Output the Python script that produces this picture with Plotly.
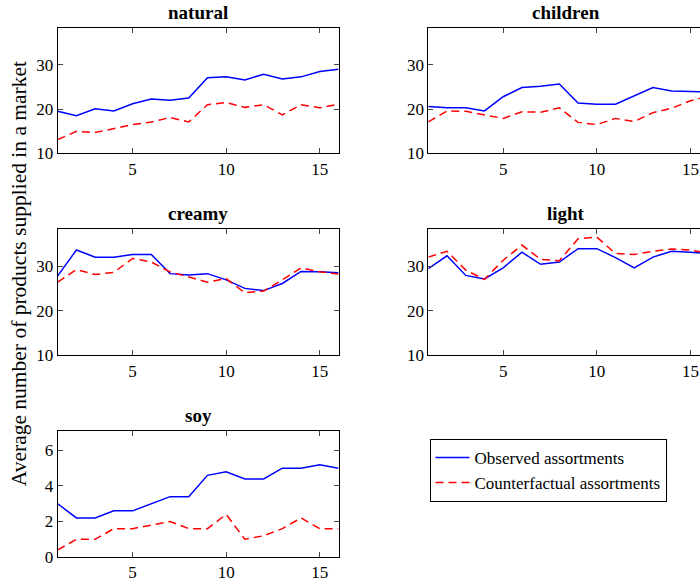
import plotly.graph_objects as go

periods = list(range(1, 17))
panel_titles = ["natural", "children", "creamy", "light", "soy"]

natural_obs = [19.5, 18.5, 20.1, 19.6, 21.2, 22.3, 22.0, 22.5, 27.1, 27.3, 26.6, 27.9, 26.8, 27.3, 28.5, 29.0]
natural_cf = [13.1, 15.0, 14.7, 15.6, 16.5, 17.1, 18.1, 17.1, 21.0, 21.5, 20.4, 21.0, 18.7, 21.0, 20.3, 21.1]
children_obs = [20.6, 20.3, 20.3, 19.6, 22.8, 24.9, 25.2, 25.7, 21.4, 21.1, 21.1, 23.0, 24.9, 24.1, 24.1, 23.9]
children_cf = [17.1, 19.6, 19.5, 18.7, 17.9, 19.4, 19.3, 20.3, 17.0, 16.5, 17.9, 17.2, 19.2, 20.2, 21.9, 23.0]
creamy_obs = [27.8, 33.6, 32.0, 32.0, 32.6, 32.6, 28.3, 28.0, 28.3, 26.9, 25.0, 24.5, 26.1, 28.8, 28.7, 28.5]
creamy_cf = [26.4, 29.2, 28.1, 28.6, 31.7, 30.9, 28.7, 27.5, 26.4, 27.2, 24.0, 24.4, 26.9, 29.6, 28.7, 28.2]
light_obs = [29.4, 32.3, 27.9, 27.1, 29.6, 33.1, 30.4, 30.9, 33.9, 33.9, 31.9, 29.6, 32.0, 33.3, 33.1, 32.8]
light_cf = [32.0, 33.3, 29.1, 27.0, 31.3, 34.7, 31.5, 31.2, 36.1, 36.5, 32.8, 32.6, 33.3, 33.8, 33.6, 32.8]
soy_obs = [3.0, 2.2, 2.2, 2.6, 2.6, 3.0, 3.4, 3.4, 4.6, 4.8, 4.4, 4.4, 5.0, 5.0, 5.2, 5.0]
soy_cf = [0.4, 1.0, 1.0, 1.6, 1.6, 1.8, 2.0, 1.6, 1.6, 2.4, 1.0, 1.2, 1.6, 2.2, 1.6, 1.6]

obs_series = [natural_obs, children_obs, creamy_obs, light_obs, soy_obs]
cf_series = [natural_cf, children_cf, creamy_cf, light_cf, soy_cf]

W, H = 700, 588
FONT = "Liberation Serif, Times New Roman, serif"

# pixel boxes (left, right, top, bottom)
boxes = [
    (57.7, 338.5, 28.7, 156.0),
    (428.3, 700.0, 28.7, 156.0),
    (57.7, 338.5, 232.5, 361.5),
    (428.3, 700.0, 232.5, 361.5),
    (57.7, 338.5, 438.0, 566.7),
]
unit_px = (338.5 - 57.7) / 15.0
yranges = [[10, 38.3], [10, 38.3], [10, 38.4], [10, 38.4], [0, 7.12]]
yticks = [[10, 20, 30]] * 4 + [[0, 2, 4, 6]]
title_centers = [198, 566, 198, 566, 198]

fig = go.Figure()
layout = {}
annotations = []
for i in range(5):
    k = "" if i == 0 else str(i + 1)
    l, r, t, b = boxes[i]
    right_col = (i % 2 == 1)
    xmax = 1 + (r - l) / unit_px
    layout["xaxis" + k] = dict(
        domain=[l / W, r / W], range=[1, xmax], anchor="y" + k,
        tickvals=[5, 10, 15], ticks="inside", ticklen=5, tickwidth=1,
        showline=True, linecolor="black", linewidth=1, mirror="ticks",
        showgrid=False, zeroline=False,
        tickfont=dict(family=FONT, size=17, color="black"),
    )
    layout["yaxis" + k] = dict(
        domain=[1 - b / H, 1 - t / H], range=yranges[i], anchor="x" + k,
        tickvals=yticks[i], ticks="inside", ticklen=5, tickwidth=1,
        showline=True, linecolor="black", linewidth=1,
        mirror=False if right_col else "ticks",
        showgrid=False, zeroline=False,
        tickfont=dict(family=FONT, size=17, color="black"),
    )
    fig.add_trace(go.Scatter(
        x=periods, y=obs_series[i], mode="lines", xaxis="x" + k, yaxis="y" + k,
        line=dict(color="#0000ff", width=1.5), name="Observed assortments",
        showlegend=(i == 0), cliponaxis=True,
    ))
    fig.add_trace(go.Scatter(
        x=periods, y=cf_series[i], mode="lines", xaxis="x" + k, yaxis="y" + k,
        line=dict(color="#ff0000", width=1.5, dash="8px,5px"), name="Counterfactual assortments",
        showlegend=(i == 0), cliponaxis=True,
    ))
    annotations.append(dict(
        text="<b>" + panel_titles[i] + "</b>", x=title_centers[i] / W, y=1 - t / H,
        xref="paper", yref="paper", xanchor="center", yanchor="bottom", yshift=3,
        showarrow=False, font=dict(family=FONT, size=19, color="black"),
    ))

annotations.append(dict(
    text="Average number of products supplied in a market", x=19 / W, y=1 - 279 / H,
    xref="paper", yref="paper", xanchor="center", yanchor="middle", textangle=-90,
    showarrow=False, font=dict(family=FONT, size=21.5, color="black"),
))

fig.update_layout(
    width=W, height=H, margin=dict(l=0, r=0, t=0, b=0),
    paper_bgcolor="white", plot_bgcolor="white",
    annotations=annotations,
    legend=dict(
        x=429.5 / W, y=1 - 446.5 / H, xanchor="left", yanchor="top",
        bordercolor="black", borderwidth=1, bgcolor="white",
        font=dict(family=FONT, size=17, color="black"),
        tracegroupgap=0, itemwidth=34,
    ),
    **layout,
)

fig.write_html(
    "out.html",
    config={"displayModeBar": False},
    post_script="document.body.style.margin='0';document.body.style.padding='0';document.body.style.overflow='hidden';",
)
